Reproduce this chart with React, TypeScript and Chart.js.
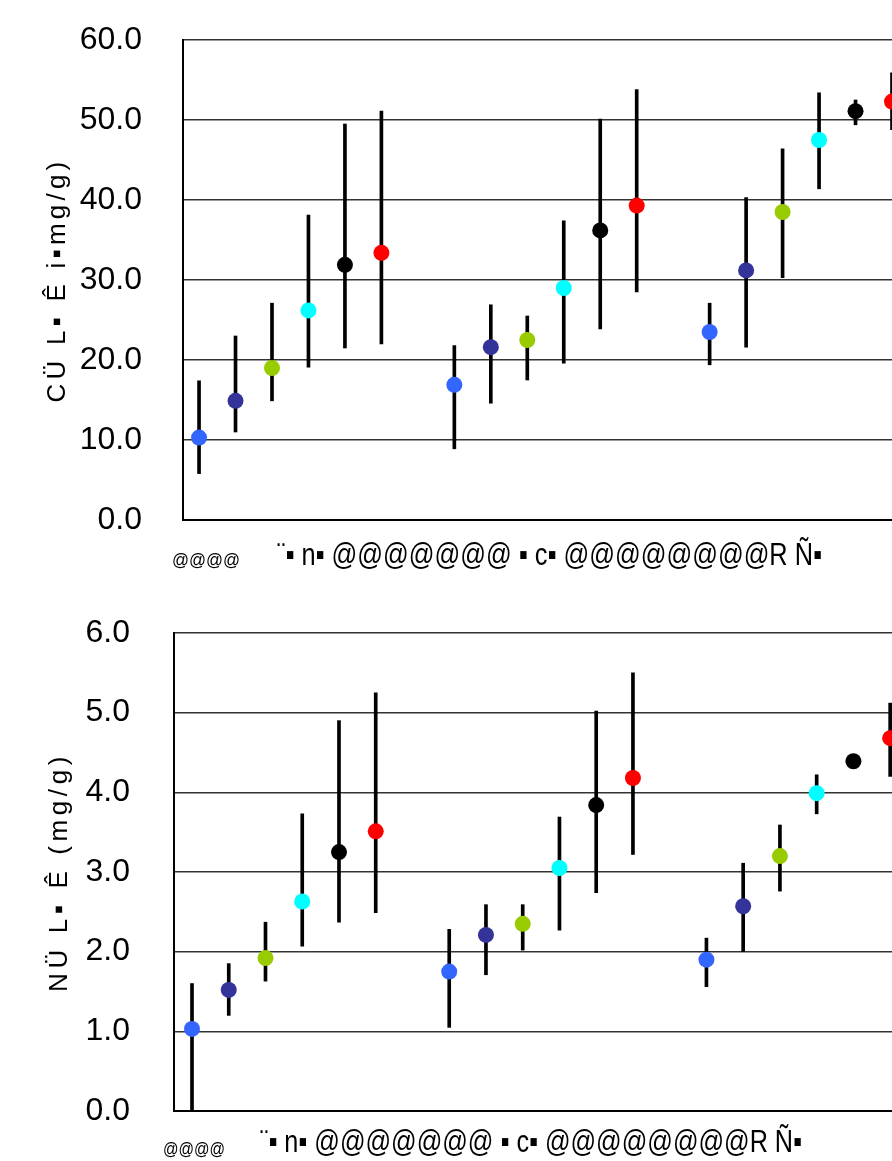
import React, { useEffect, useRef } from 'react';
import { Chart, registerables } from 'chart.js';

Chart.register(...registerables);

// ---------- data ----------
const groupLabels = ['G1', 'G2', 'G3'];
const seriesLabels = ['S1', 'S2', 'S3', 'S4', 'S5', 'S6'];
const seriesColors = ['#3366ff', '#333399', '#99cc00', '#00ffff', '#000000', '#ff0000'];
const slotsPerGroup = 7;

// upper panel (mg/g)
const cuMean = [
  [10.3, 14.9, 19.0, 26.2, 31.9, 33.4],
  [16.9, 21.6, 22.5, 29.0, 36.2, 39.3],
  [23.5, 31.2, 38.5, 47.5, 51.1, 52.3],
];
const cuLow = [
  [5.8, 11.0, 14.9, 19.1, 21.5, 22.0],
  [8.9, 14.6, 17.5, 19.6, 23.9, 28.5],
  [19.4, 21.6, 30.3, 41.4, 49.4, 48.8],
];
const cuHigh = [
  [17.4, 23.0, 27.1, 38.1, 49.5, 51.1],
  [21.8, 26.9, 25.5, 37.4, 50.1, 53.8],
  [27.1, 40.3, 46.4, 53.4, 52.5, 55.9],
];
const cuTickMax = 60;
const cuTickStep = 10;

// lower panel (mg/g)
const nMean = [
  [1.03, 1.52, 1.92, 2.63, 3.25, 3.51],
  [1.75, 2.21, 2.35, 3.05, 3.84, 4.18],
  [1.90, 2.57, 3.20, 3.99, 4.39, 4.68],
];
const nLow = [
  [0.0, 1.2, 1.63, 2.07, 2.37, 2.49],
  [1.05, 1.71, 2.02, 2.27, 2.74, 3.22],
  [1.56, 2.0, 2.76, 3.73, 4.36, 4.2],
];
const nHigh = [
  [1.6, 1.85, 2.37, 3.73, 4.9, 5.25],
  [2.28, 2.59, 2.59, 3.69, 5.02, 5.5],
  [2.17, 3.11, 3.59, 4.22, 4.42, 5.12],
];
const nTickMax = 6;
const nTickStep = 1;

const cuYTitle = 'CÜ L▪ Ê i▪mg/g)';
const nYTitle = 'NÜ L▪ Ê (mg/g)';
const xTitleSmall = '@@@@';
const xTitleMain = '¨▪ n▪ @@@@@@@ ▪ c▪ @@@@@@@@R Ñ▪';

const FONT = '"Liberation Sans", Arial, sans-serif';

function drawFitted(ctx: CanvasRenderingContext2D, text: string, left: number, y: number, width: number) {
  const c: any = ctx;
  c.letterSpacing = '0px';
  const w = ctx.measureText(text).width;
  if (w < width) {
    const n = Array.from(text).length;
    c.letterSpacing = `${(width - w) / n}px`;
    ctx.fillText(text, left, y);
  } else {
    ctx.fillText(text, left, y, width);
  }
  c.letterSpacing = '0px';
}

const textPlugin = {
  id: 'panelText',
  afterDraw(chart: any, _args: any, o: any) {
    const ctx: CanvasRenderingContext2D = chart.ctx;
    const area = chart.chartArea;
    ctx.save();
    ctx.fillStyle = '#000';
    // y title
    ctx.save();
    ctx.translate(o.yTitleX, (area.top + area.bottom) / 2);
    ctx.rotate(-Math.PI / 2);
    ctx.font = `${o.yTitleSize}px ${FONT}`;
    ctx.textAlign = 'left';
    ctx.textBaseline = 'middle';
    drawFitted(ctx, o.yTitle, -o.yTitleLen / 2, 0, o.yTitleLen);
    ctx.restore();
    // x title small part
    ctx.textAlign = 'left';
    ctx.textBaseline = 'alphabetic';
    ctx.font = `${o.smallSize}px ${FONT}`;
    drawFitted(ctx, o.smallText, o.smallLeft, o.smallBase, o.smallWidth);
    // x title main part
    ctx.font = `${o.mainSize}px ${FONT}`;
    drawFitted(ctx, o.mainText, o.mainLeft, o.mainBase, o.mainWidth);
    ctx.restore();
  },
};

type PanelProps = {
  mean: number[][];
  low: number[][];
  high: number[][];
  yMax: number;
  yStep: number;
  height: number;
  plotLeft: number;
  plotTop: number;
  plotBottom: number;
  xMin: number;
  xMax: number;
  tickPad: number;
  text: any;
};

function Panel(p: PanelProps) {
  const ref = useRef<HTMLCanvasElement>(null);
  useEffect(() => {
    const canvas = ref.current!;
    const bars: any[] = [];
    p.mean.forEach((g, gi) =>
      g.forEach((_, si) => bars.push({ x: gi * slotsPerGroup + si, y: [p.low[gi][si], p.high[gi][si]] }))
    );
    const datasets: any[] = seriesLabels.map((name, si) => ({
      type: 'scatter',
      label: name,
      data: p.mean.map((g, gi) => ({ x: gi * slotsPerGroup + si, y: g[si] })),
      backgroundColor: seriesColors[si],
      borderColor: seriesColors[si],
      borderWidth: 0,
      pointRadius: 8,
      pointHoverRadius: 8,
      order: 0,
    }));
    datasets.push({
      type: 'bar',
      label: 'range',
      data: bars,
      backgroundColor: '#000',
      borderWidth: 0,
      barThickness: 3,
      grouped: false,
      order: 1,
    });
    let xAxisH = p.height - p.plotBottom;
    let padTop = p.plotTop;
    const chart = new Chart(canvas, {
      type: 'scatter',
      data: { datasets },
      options: {
        animation: false,
        responsive: false,
        devicePixelRatio: 1,
        events: [],
        layout: { autoPadding: false, padding: { top: padTop, left: 0, right: 0, bottom: 0 } },
        plugins: {
          legend: { display: false },
          tooltip: { enabled: false },
          panelText: p.text,
        } as any,
        scales: {
          x: {
            type: 'linear',
            min: p.xMin,
            max: p.xMax,
            offset: false,
            ticks: { display: false },
            grid: { display: false, drawTicks: false, offset: false },
            border: { display: true, color: '#000', width: 2 },
            afterFit: (s: any) => {
              s.height = xAxisH;
              s.paddingLeft = 0;
              s.paddingRight = 0;
            },
          },
          y: {
            type: 'linear',
            min: 0,
            max: p.yMax,
            beginAtZero: true,
            ticks: {
              stepSize: p.yStep,
              color: '#000',
              padding: p.tickPad,
              font: { size: 32, family: FONT },
              callback: (v: any) => Number(v).toFixed(1),
            },
            grid: { color: '#333', lineWidth: 1.5, drawTicks: false },
            border: { display: true, color: '#000', width: 2 },
            afterFit: (s: any) => {
              s.width = p.plotLeft;
              s.paddingTop = 0;
              s.paddingBottom = 0;
            },
          },
        },
      } as any,
      plugins: [textPlugin],
    });
    // make sure the plot area lands where the reference has it
    for (let i = 0; i < 4; i++) {
      const ca = chart.chartArea;
      const dt = ca.top - p.plotTop;
      const db = ca.bottom - p.plotBottom;
      if (Math.abs(dt) < 0.5 && Math.abs(db) < 0.5) break;
      padTop = Math.max(0, padTop - dt);
      xAxisH = Math.max(0, xAxisH + db);
      (chart.options as any).layout.padding = { top: padTop, left: 0, right: 0, bottom: 0 };
      chart.update();
    }
    return () => chart.destroy();
  }, []);
  return (
    <canvas
      ref={ref}
      width={892}
      height={p.height}
      style={{ display: 'block', width: 892, height: p.height }}
    />
  );
}

export default function App() {
  return (
    <div
      style={{
        position: 'absolute',
        left: 0,
        top: 0,
        width: 892,
        height: 1161,
        overflow: 'hidden',
        background: '#fff',
      }}
    >
      <Panel
        mean={cuMean}
        low={cuLow}
        high={cuHigh}
        yMax={cuTickMax}
        yStep={cuTickStep}
        height={580}
        plotLeft={183}
        plotTop={40}
        plotBottom={520}
        xMin={-0.44}
        xMax={19.0}
        tickPad={41}
        text={{
          yTitle: cuYTitle,
          yTitleX: 58,
          yTitleSize: 26,
          yTitleLen: 245,
          smallText: xTitleSmall,
          smallSize: 18,
          smallLeft: 172,
          smallBase: 566,
          smallWidth: 68,
          mainText: xTitleMain,
          mainSize: 32,
          mainLeft: 277,
          mainBase: 565,
          mainWidth: 545,
        }}
      />
      <Panel
        mean={nMean}
        low={nLow}
        high={nHigh}
        yMax={nTickMax}
        yStep={nTickStep}
        height={581}
        plotLeft={174}
        plotTop={53}
        plotBottom={531}
        xMin={-0.49}
        xMax={19.05}
        tickPad={44}
        text={{
          yTitle: nYTitle,
          yTitleX: 60,
          yTitleSize: 26,
          yTitleLen: 240,
          smallText: xTitleSmall,
          smallSize: 18,
          smallLeft: 163,
          smallBase: 575,
          smallWidth: 62,
          mainText: xTitleMain,
          mainSize: 32,
          mainLeft: 260,
          mainBase: 572,
          mainWidth: 542,
        }}
      />
    </div>
  );
}
